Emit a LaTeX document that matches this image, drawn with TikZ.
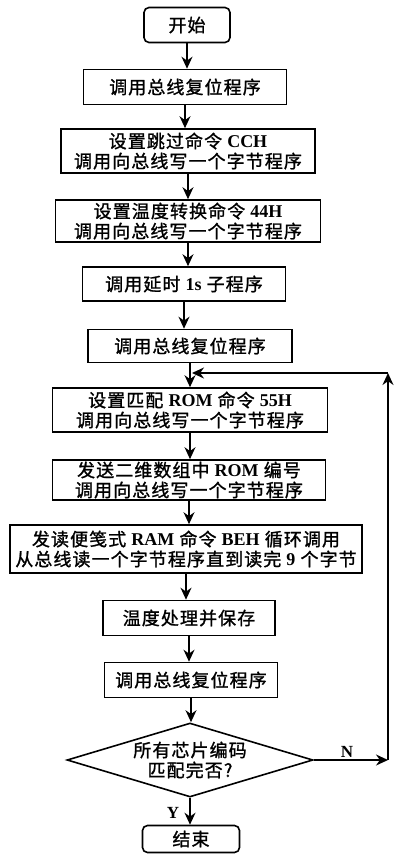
\documentclass[tikz,border=0pt]{standalone}
\usepackage{fontspec}
\setmainfont{Liberation Serif}
\newfontfamily\cjk{Noto Sans CJK SC}[LetterSpace=6,FakeBold=1.2]
\usetikzlibrary{positioning, shapes.geometric, arrows.meta}
\newcommand{\lat}[1]{{\rmfamily\bfseries #1}}

\begin{document}
\begin{tikzpicture}[x=1pt,y=-1pt,
  stepbox/.style={draw=drawColor,line width=1.6pt,align=center,inner sep=0pt,
    font=\cjk\fontsize{18}{20}\selectfont},
  termbox/.style={stepbox,rounded corners=5pt},
  testbox/.style={stepbox,diamond,aspect=3.3},
  flow/.style={draw=drawColor,line width=1.5pt,-{Stealth[length=12pt,width=11pt]}},
  letter/.style={text=drawColor,inner sep=0pt,font=\fontsize{17}{17}\selectfont}]
\definecolor{fillColor}{RGB}{255,255,255}
\definecolor{drawColor}{RGB}{0,0,0}
\path[use as bounding box,fill=fillColor] (0,0) rectangle (396,854);

\node[termbox,minimum width=86pt,minimum height=35pt] (start) at (187, 25) {开始};
\node[stepbox,minimum width=203pt,minimum height=35pt] (reset1) at (185, 87) {调用总线复位程序};
\node[stepbox,minimum width=254pt,minimum height=44pt] (skip) at (188,151) {设置跳过命令 \lat{CCH}\\调用向总线写一个字节程序};
\node[stepbox,minimum width=265pt,minimum height=42pt] (conv) at (188,221) {设置温度转换命令 \lat{44H}\\调用向总线写一个字节程序};
\node[stepbox,minimum width=203pt,minimum height=34pt] (delay) at (184,284) {调用延时 \lat{1s} 子程序};
\node[stepbox,minimum width=204pt,minimum height=33pt] (reset2) at (190,346) {调用总线复位程序};
\node[stepbox,minimum width=275pt,minimum height=44pt] (match) at (190,410) {设置匹配 \lat{ROM} 命令 \lat{55H}\\调用向总线写一个字节程序};
\node[stepbox,minimum width=273pt,minimum height=40pt] (send) at (189,480) {发送二维数组中 \lat{ROM} 编号\\调用向总线写一个字节程序};
\node[stepbox,minimum width=352pt,minimum height=48pt] (read) at (186,549) {发读便笺式 \lat{RAM} 命令 \lat{BEH} 循环调用\\从总线读一个字节程序直到读完 \lat{9} 个字节};
\node[stepbox,minimum width=172pt,minimum height=35pt] (temp) at (189,618) {温度处理并保存};
\node[stepbox,minimum width=173pt,minimum height=35pt] (reset3) at (191,680) {调用总线复位程序};
\node[testbox,minimum width=246pt,minimum height=74pt] (check) at (190,760) {所有芯片编码\\匹配完否?};
\node[termbox,minimum width=97pt,minimum height=27pt] (stop) at (191,839) {结束};

\coordinate (cornerB) at (388,760);
\coordinate (cornerT) at (388,373);
\coordinate (joint) at (192,373);

\draw[flow] (start.south) -- (start.south |- reset1.north);
\draw[flow] (reset1.south) -- (reset1.south |- skip.north);
\draw[flow] (skip.south) -- (skip.south |- conv.north);
\draw[flow] (conv.south) -- (conv.south |- delay.north);
\draw[flow] (delay.south) -- (delay.south |- reset2.north);
\draw[flow] (reset2.south) -- (reset2.south |- match.north);
\draw[flow] (match.south) -- (match.south |- send.north);
\draw[flow] (send.south) -- (send.south |- read.north);
\draw[flow] (read.south) -- (read.south |- temp.north);
\draw[flow] (temp.south) -- (temp.south |- reset3.north);
\draw[flow] (reset3.south) -- (reset3.south |- check.north);
\draw[flow] (check.south) -- (check.south |- stop.north);

\draw[flow] (check.east) -- (cornerB);
\draw[flow] (cornerB) -- (cornerT);
\draw[flow] (cornerT) -- (joint);

\node[letter] (nlab) at (347,752) {\lat{N}};
\node[letter] (ylab) at (173,813) {\lat{Y}};
\end{tikzpicture}
\end{document}
